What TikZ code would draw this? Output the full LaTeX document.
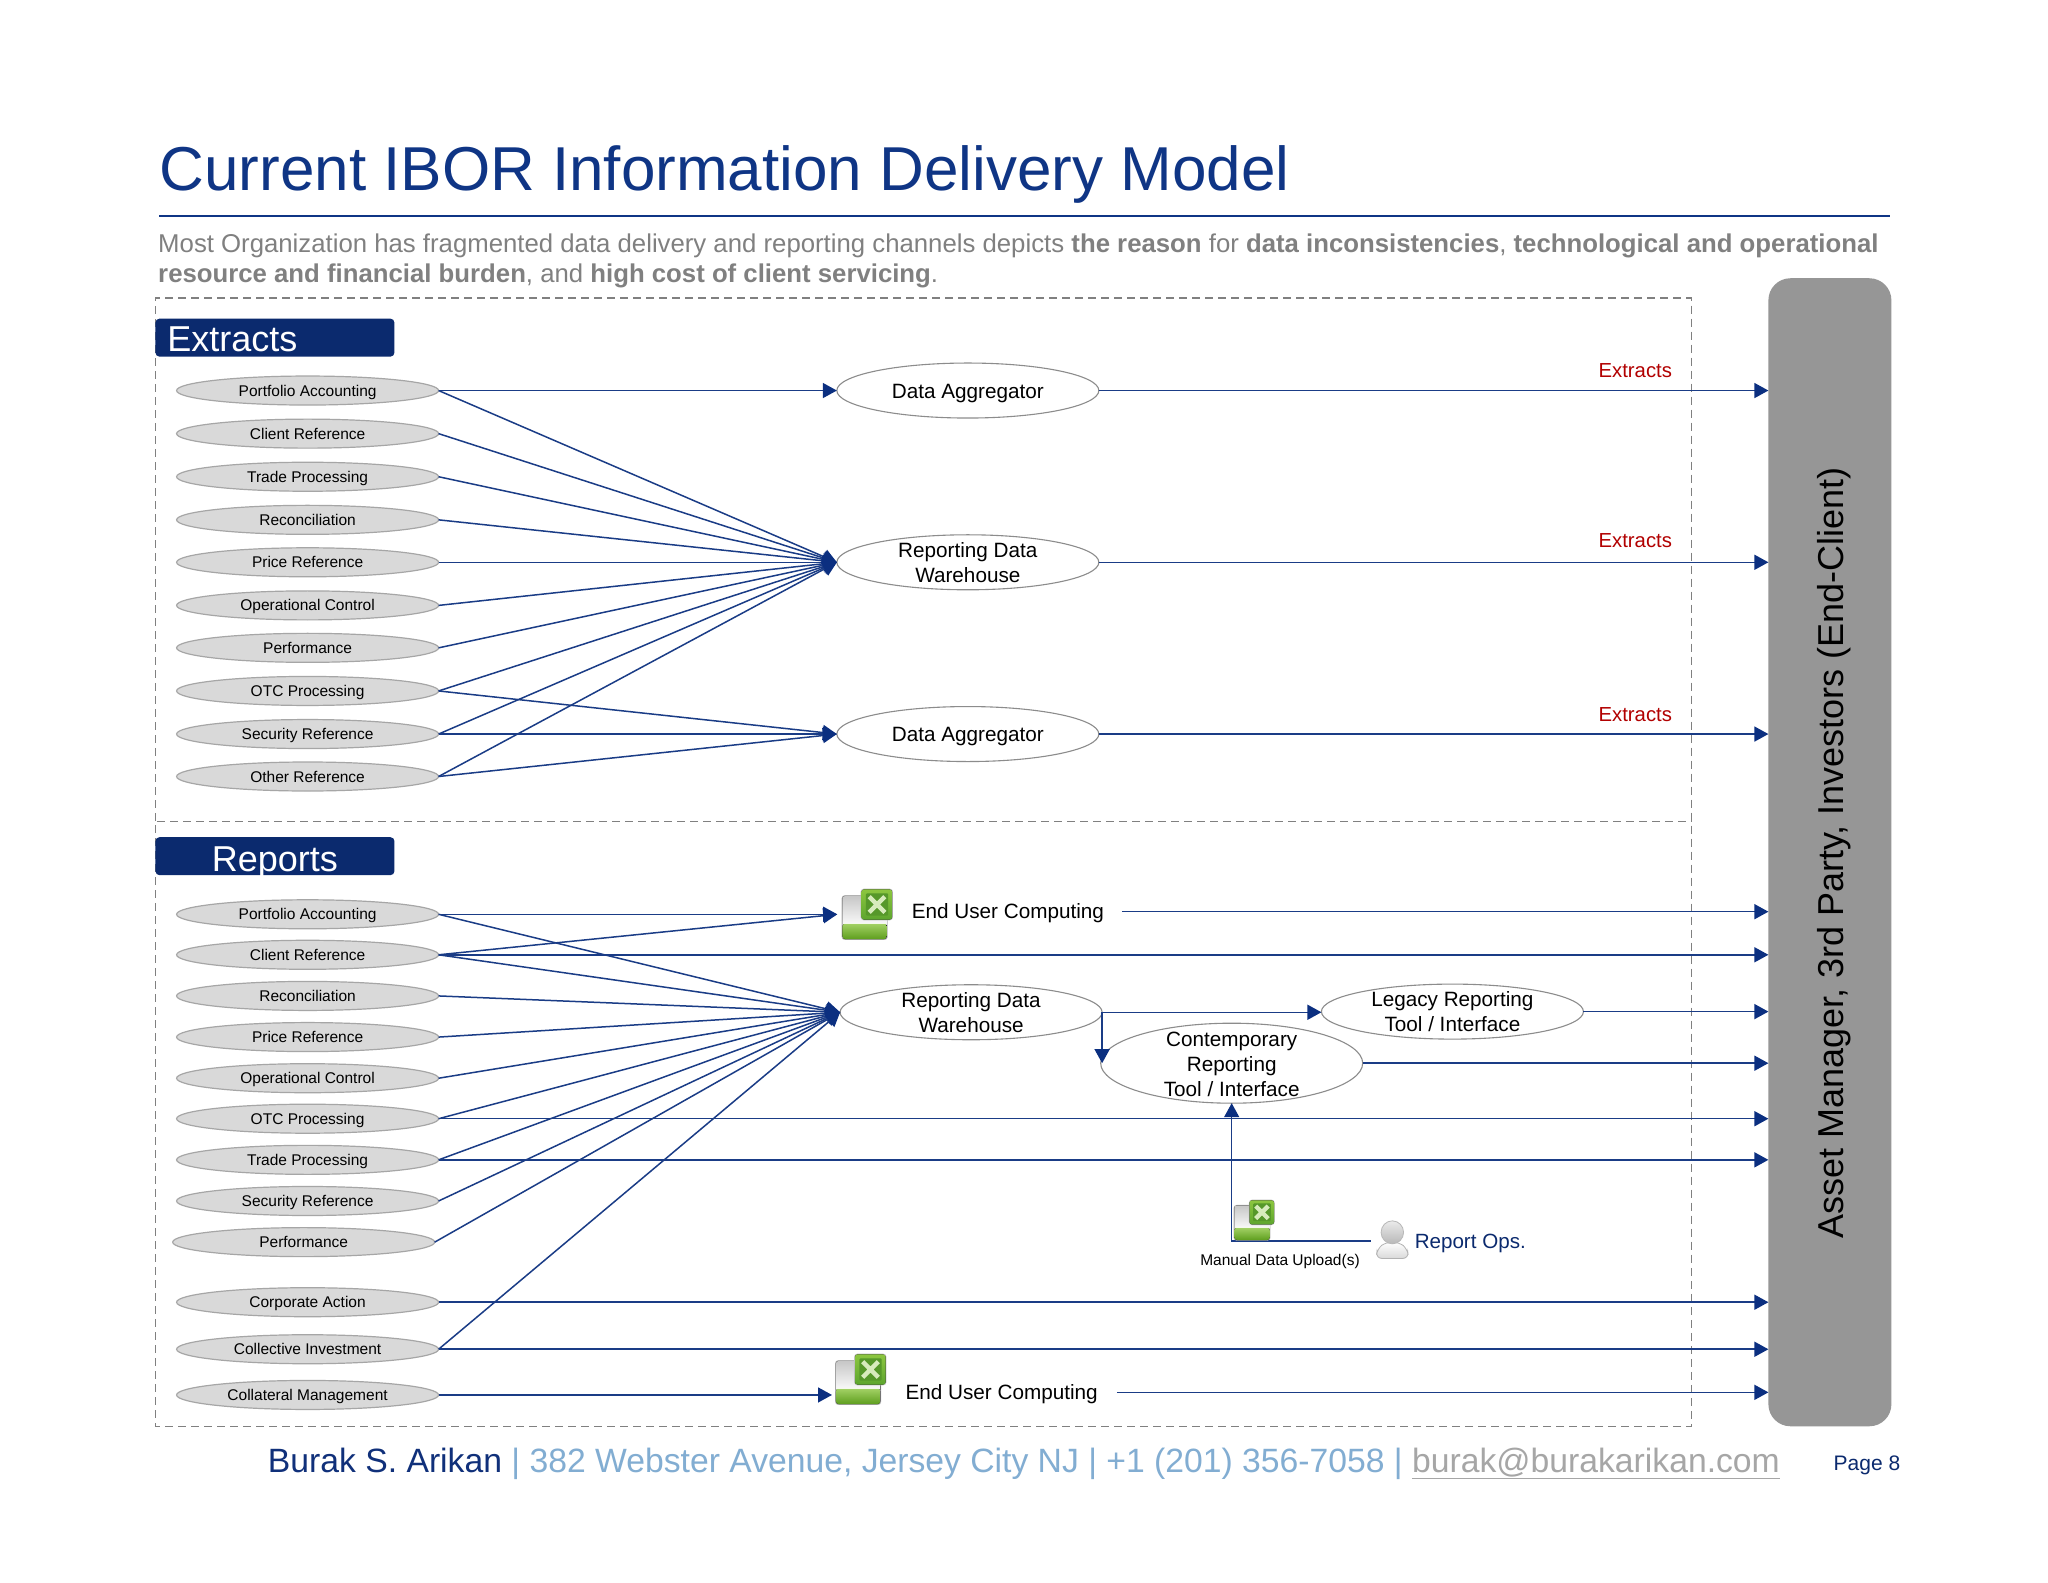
\documentclass[tikz,border=0pt]{standalone}
\usepackage{fontspec}
\setmainfont{Liberation Sans}
\usetikzlibrary{shapes.geometric,arrows.meta,calc}
\definecolor{navy}{HTML}{0B2A6E}
\definecolor{ttl}{HTML}{0F3585}
\definecolor{lnk}{HTML}{1A3C86}
\definecolor{tip}{HTML}{0B2F80}
\definecolor{txtgray}{HTML}{808080}
\definecolor{lime}{HTML}{8CC63F}
\definecolor{limed}{HTML}{5E9E1E}
\definecolor{xlg}{HTML}{5DA52E}
\definecolor{ftblue}{HTML}{82ADD2}
\definecolor{ftnavy}{HTML}{10307A}
\newcommand{\fs}[1]{\fontsize{#1}{#1}\selectfont}
\tikzset{
  src/.style={ellipse,draw=black!35,fill=black!15,line width=1.2pt,minimum width=262pt,minimum height=29pt,inner sep=0pt,outer sep=0pt,font=\fs{15.5},text=black,text height=11pt,text depth=0pt},
  big/.style={ellipse,draw=black!45,fill=white,line width=1.1pt,minimum width=262pt,minimum height=55pt,inner sep=0pt,outer sep=0pt},
  bigtxt/.style={font=\fontsize{20.7}{25}\selectfont,align=center,inner sep=0pt,text=black},
  lnk/.style={draw=lnk,line width=1.5pt},
  arr/.style={lnk,-{Triangle[length=14pt,width=15pt,color=tip]}},
  red/.style={font=\fs{20.3},text=red!70!black,inner sep=0pt},
  bar/.style={draw=none,fill=navy,rounded corners=4pt,minimum width=239pt,minimum height=38pt,inner sep=0pt},
  dashbox/.style={draw=black!50,line width=1.6pt,dash pattern=on 8pt off 5pt},
  pics/xl/.style={code={
    \fill[black!30,rounded corners=3pt] (-.6,-.6) rectangle (34.6,33.6);
    \fill[top color=black!22,bottom color=white,rounded corners=2.5pt] (0,0) rectangle (34,24);
    \fill[top color=lime!80!white,bottom color=limed,rounded corners=3pt] (0,21) rectangle (34,33);
    \fill[white!90!lime] (1,20.5) rectangle (33,21.5);
    \fill[black!25!white,rounded corners=3pt] (14,-5.6) rectangle (38.6,18.6);
    \fill[top color=lime,bottom color=xlg,rounded corners=2.5pt] (14.6,-5) rectangle (38,18);
    \fill[xlg!92!black,rounded corners=1pt] (18,-2) rectangle (35,15);
    \draw[white!65!lime,line width=4.4pt] (20.5,.5) -- (32.5,12.5) (32.5,.5) -- (20.5,12.5);
  }},
  pics/person/.style={code={
    \shade[top color=white,bottom color=black!15,draw=black!30,line width=.8pt,rounded corners=6pt] (-12.5,14.5) -- (-11.5,7) -- (-5,2) -- (5,2) -- (11.5,7) -- (12.5,14.5) -- cycle;
    \shade[top color=black!8,bottom color=black!28,draw=black!28,line width=.8pt] (0,-5.5) ellipse [x radius=8.6,y radius=8.8];
  }},
}
\begin{document}
\begin{tikzpicture}[x=1.3061pt,y=-1.3061pt]
\useasboundingbox (0,0) rectangle (1568,1211.27);
\fill[white] (0,0) rectangle (1568,1211.27);

% title block
\node[anchor=base west,inner sep=0pt,font=\fs{62},text=ttl] (title) at (122,146) {Current IBOR Information Delivery Model};
\coordinate (ruleL) at (122,165.5);
\coordinate (ruleR) at (1447,165.5);
\draw[ttl,line width=2.6pt] (ruleL) -- (ruleR);
\node[anchor=base west,inner sep=0pt,font=\fs{25.75},text=txtgray] (sub1) at (121,193) {Most Organization has fragmented data delivery and reporting channels depicts \textbf{the reason} for \textbf{data inconsistencies}, \textbf{technological and operational}};
\node[anchor=base west,inner sep=0pt,font=\fs{25.75},text=txtgray] (sub2) at (121,216) {\textbf{resource and financial burden}, and \textbf{high cost of client servicing}.};

% dashed panels
\draw[dashbox] (119,628.5) |- (1295,228) -- (1295,1092) -- (119,1092) -- (119,629) -- (1295,629);

% section bars
\node[bar] (barE) at (210.5,258.5) {};
\node[anchor=base west,inner sep=0pt,font=\fs{36},text=white] (barEt) at (128,269) {Extracts};
\node[bar] (barR) at (210.5,655.5) {};
\node[anchor=base,inner sep=0pt,font=\fs{36},text=white] (barRt) at (210.5,667) {Reports};

% end-client bar
\node[draw=none,fill=black!41!white,rounded corners=22pt,minimum width=123pt,minimum height=1148pt,inner sep=0pt,outer sep=0pt] (am) at (1401,652.5) {};
\node[rotate=90,inner sep=0pt,font=\fs{36},text=black] (amt) at (1404,653) {Asset Manager, 3rd Party, Investors (End-Client)};

% extract sources
\node[src] (e1) at (235.5,299) {Portfolio Accounting};
\node[src] (e2) at (235.5,332) {Client Reference};
\node[src] (e3) at (235.5,365) {Trade Processing};
\node[src] (e4) at (235.5,398) {Reconciliation};
\node[src] (e5) at (235.5,430.5) {Price Reference};
\node[src] (e6) at (235.5,463.5) {Operational Control};
\node[src] (e7) at (235.5,496) {Performance};
\node[src] (e8) at (235.5,529) {OTC Processing};
\node[src] (e9) at (235.5,562) {Security Reference};
\node[src] (e10) at (235.5,594.5) {Other Reference};

% extract targets
\node[big,label={[bigtxt,yshift=-2.6pt]center:Data Aggregator}] (da1) at (741,299) {};
\node[big,label={[bigtxt]center:Reporting Data\\Warehouse}] (rd1) at (741,430.5) {};
\node[big,label={[bigtxt,yshift=-2.6pt]center:Data Aggregator}] (da2) at (741,562) {};

\draw[arr] (e1.east) -- (da1.west);
\foreach \i in {1,...,10} \draw[arr] (e\i.east) -- (rd1.west);
\foreach \i in {8,9,10} \draw[arr] (e\i.east) -- (da2.west);

\draw[arr] (da1.east) -- (da1.east -| am.west);
\draw[arr] (rd1.east) -- (rd1.east -| am.west);
\draw[arr] (da2.east) -- (da2.east -| am.west);
\node[red] (x1) at (1252,283.5) {Extracts};
\node[red] (x2) at (1252,414) {Extracts};
\node[red] (x3) at (1252,547) {Extracts};

% report sources
\node[src] (r1) at (235.5,700) {Portfolio Accounting};
\node[src] (r2) at (235.5,731) {Client Reference};
\node[src] (r3) at (235.5,762.5) {Reconciliation};
\node[src] (r4) at (235.5,794) {Price Reference};
\node[src] (r5) at (235.5,825.5) {Operational Control};
\node[src] (r6) at (235.5,856.5) {OTC Processing};
\node[src] (r7) at (235.5,888) {Trade Processing};
\node[src] (r8) at (235.5,919.5) {Security Reference};
\node[src] (r9) at (232.5,951) {Performance};
\node[src] (r10) at (235.5,997) {Corporate Action};
\node[src] (r11) at (235.5,1033) {Collective Investment};
\node[src] (r12) at (235.5,1068) {Collateral Management};

% report targets
\node[big,label={[bigtxt]center:Reporting Data\\Warehouse}] (rd2) at (743.5,775) {};
\node[big,label={[bigtxt]center:Legacy Reporting\\Tool / Interface}] (leg) at (1112,774.5) {};
\node[big,minimum height=80pt,label={[bigtxt,yshift=-1.3pt]center:Contemporary\\Reporting\\Tool / Interface}] (con) at (943,814) {};

% icons
\pic at (645,686) {xl};
\coordinate (ic1) at (641,700);
\pic at (640,1042) {xl};
\coordinate (ic2) at (637,1068);
\node[anchor=east,inner sep=0pt,outer sep=0pt,font=\fs{20.7},text=black,align=left,yshift=-1.6pt] (eu1t) at (859,698) {End User Computing\hspace{18pt}};
\node[anchor=east,inner sep=0pt,outer sep=0pt,font=\fs{20.7},text=black,align=left,yshift=-1.3pt] (eu2t) at (855,1066) {End User Computing\hspace{19pt}};
\coordinate (eu1) at (859,698);
\coordinate (eu2) at (855,1066);

\draw[arr] (r1.east) -- (ic1);
\draw[arr] (r2.east) -- (ic1);
\foreach \i in {1,...,9,11} \draw[arr] (r\i.east) -- (rd2.west);
\draw[arr] (r12.east) -- (ic2);
\foreach \i in {2,6,7,10,11} \draw[arr] (r\i.east) -- (r\i.east -| am.west);
\draw[arr] (eu1) -- (eu1 -| am.west);
\draw[arr] (eu2) -- (eu2 -| am.west);

\coordinate (rdo) at (rd2.east);
\draw[arr] (rdo) -- (rdo -| leg.west);
\draw[arr] (rdo) -- (rdo |- con.west);
\draw[arr] (leg.east) -- (leg.east -| am.west);
\draw[arr] (con.east) -- (con.east -| am.west);

% manual upload
\coordinate (up) at (943,950);
\node[inner sep=0pt,outer sep=0pt,minimum width=1pt] (po) at (1050,950) {};
\draw[arr] (po) -- (up) -- (con.south);
\pic[scale=.8] at (945,923) {xl};
\pic at (1066,949) {person};
\node[inner sep=0pt,font=\fs{15.5},text=black] (mdu) at (980,965.5) {Manual Data Upload(s)};
\node[anchor=west,inner sep=0pt,font=\fs{20.6},text=navy] (ops) at (1083,952) {Report Ops.};

% footer
\node[anchor=base west,inner sep=0pt,font=\fs{33.7},text=ftnavy] (foot) at (205,1127) {Burak S. Arikan \textcolor{ftblue}{| 382 Webster Avenue, Jersey City NJ | +1 (201) 356-7058 | }\textcolor{black!35}{\underline{burak@burakarikan.com}}};
\node[anchor=base east,inner sep=0pt,font=\fs{21},text=navy] (page) at (1455,1126) {Page 8};
\end{tikzpicture}
\end{document}
